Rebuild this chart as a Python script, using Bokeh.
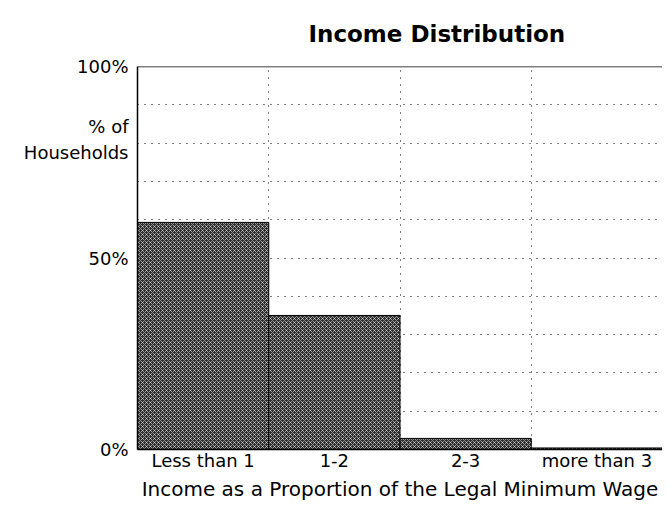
from bokeh.plotting import figure
from bokeh.models import Range1d, FixedTicker, Span, Title
from bokeh.embed import file_html
from bokeh.resources import INLINE

# ---- data ----
categories = ["Less than 1", "1-2", "2-3", "more than 3"]
shares = [59.3, 35.0, 2.9, 0.4]          # % of households
y_ticks = [0, 50, 81, 100]
y_tick_labels = ["0%", "50%", "% of\nHouseholds", "100%"]
grid_y = [10, 20, 30, 40, 50, 60, 70, 80, 90]
grid_x = [1, 2, 3]

FONT = "DejaVu Sans"

p = figure(width=662, height=503, output_backend="svg", toolbar_location=None,
           x_range=Range1d(0, len(categories)), y_range=Range1d(0, 100),
           min_border_left=137, min_border_right=0, min_border_top=66,
           min_border_bottom=54)
p.title = None
p.outline_line_color = None
p.background_fill_color = "white"
p.border_fill_color = "white"

left = list(range(len(categories)))
right = [i + 1 for i in left]
bottom = [0] * len(categories)
centers = [i + 0.5 for i in left]
p.quad(left=left, right=right, bottom=bottom, top=shares,
       fill_color="#2e2e2e", line_color="black", line_width=1,
       hatch_pattern="diagonal_cross", hatch_color="white",
       hatch_scale=4, hatch_weight=0.7, hatch_alpha=0.75)

# grid
p.ygrid.ticker = FixedTicker(ticks=grid_y)
p.xgrid.ticker = FixedTicker(ticks=grid_x)
for g in (p.xgrid, p.ygrid):
    g.grid_line_color = "black"
    g.grid_line_dash = "1 6"
    g.grid_line_width = 1

# frame top and right
p.add_layout(Span(location=100, dimension="width", line_color="black", line_width=1.5))
p.add_layout(Span(location=len(categories), dimension="height", line_color="black",
                  line_width=1, line_dash="1 3"))

# y axis
ya = p.yaxis[0]
ya.ticker = FixedTicker(ticks=y_ticks)
ya.major_label_overrides = {t: l for t, l in zip(y_ticks, y_tick_labels)}
ya.major_label_text_font = FONT
ya.major_label_text_font_size = "18px"
ya.major_label_text_color = "black"
ya.major_label_text_line_height = 1.25
ya.major_tick_out = 0
ya.major_tick_in = 0
ya.minor_tick_line_color = None
ya.axis_line_width = 1.5
ya.major_label_standoff = 9

# x axis
xa = p.xaxis[0]
xa.ticker = FixedTicker(ticks=centers)
xa.major_label_overrides = {t: c for t, c in zip(centers, categories)}
xa.major_label_text_font = FONT
xa.major_label_text_font_size = "18px"
xa.major_label_text_color = "black"
xa.major_tick_line_color = None
xa.major_tick_out = 0
xa.major_tick_in = 0
xa.minor_tick_line_color = None
xa.axis_line_width = 1.5
xa.major_label_standoff = 0
xa.axis_label = "Income as a Proportion of the Legal Minimum Wage"
xa.axis_label_text_font = FONT
xa.axis_label_text_font_size = "20px"
xa.axis_label_text_font_style = "normal"
xa.axis_label_text_color = "black"
xa.axis_label_standoff = 3

p.add_layout(Title(text="Income Distribution", align="left", offset=171, standoff=36,
                   vertical_align="top",
                   text_font=FONT, text_font_size="23px", text_font_style="bold",
                   text_color="black"), "above")

open("out.html", "w").write(file_html(p, INLINE))
